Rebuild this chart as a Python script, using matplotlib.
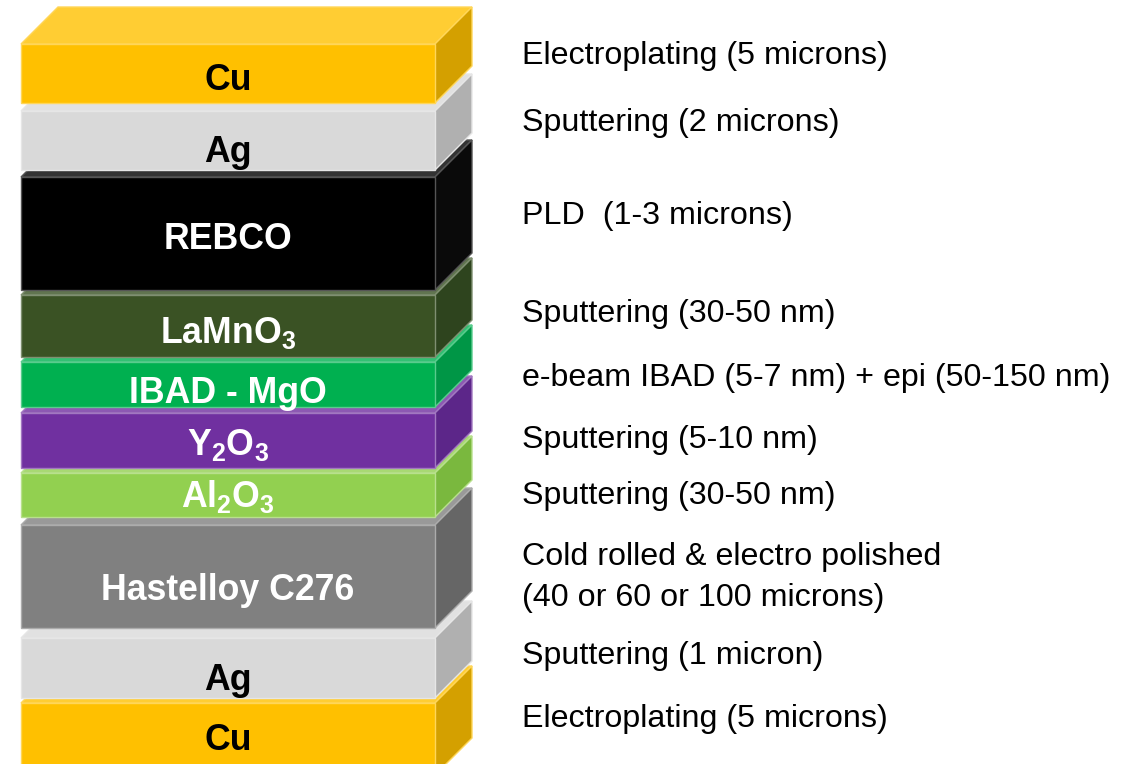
import matplotlib
matplotlib.use("Agg")
import matplotlib.pyplot as plt
from matplotlib.patches import Polygon
from matplotlib.colors import to_rgb

plt.rcParams['font.family'] = ['Liberation Sans', 'DejaVu Sans']
plt.rcParams['mathtext.fontset'] = 'custom'
plt.rcParams['mathtext.rm'] = 'Liberation Sans:bold'
plt.rcParams['mathtext.it'] = 'Liberation Sans:bold'
plt.rcParams['mathtext.bf'] = 'Liberation Sans:bold'

# ---- data (top to bottom) ----
layer_labels = ['Cu', 'Ag', 'REBCO', r'LaMnO$_3$', 'IBAD - MgO', r'Y$_2$O$_3$',
                r'Al$_2$O$_3$', 'Hastelloy C276', 'Ag', 'Cu']
layer_top = [44, 111, 177, 295, 362, 413, 473, 525, 638, 703]
layer_bottom = [103, 170, 290, 357, 407, 468, 517, 628, 698, 775]
label_baseline = [90, 162, 249, 343, 403, 455, 507, 600, 690, 750]
label_color = ['black', 'black', 'white', 'white', 'white', 'white', 'white',
               'white', 'black', 'black']
front_color = ['#FFC000', '#D9D9D9', '#000000', '#3A5224', '#00B050', '#7030A0',
               '#92D050', '#808080', '#D9D9D9', '#FFC000']
side_color = ['#D4A000', '#B0B0B0', '#0A0A0A', '#2E441E', '#009646', '#5C2689',
              '#7AB83E', '#666666', '#B0B0B0', '#D4A000']

process_text = ['Electroplating (5 microns)', 'Sputtering (2 microns)',
                'PLD  (1-3 microns)', 'Sputtering (30-50 nm)',
                'e-beam IBAD (5-7 nm) + epi (50-150 nm)', 'Sputtering (5-10 nm)',
                'Sputtering (30-50 nm)', 'Cold rolled & electro polished',
                '(40 or 60 or 100 microns)', 'Sputtering (1 micron)',
                'Electroplating (5 microns)']
process_baseline = [64, 131, 224, 322, 386, 448, 504, 565, 606, 664, 727]

# geometry
x_left, x_right = 21, 435
depth = 37


def lighten(c, f):
    r, g, b = to_rgb(c)
    return (r + (1 - r) * f, g + (1 - g) * f, b + (1 - b) * f)


fig = plt.figure(figsize=(11.25, 7.64), dpi=100)
ax = fig.add_axes([0, 0, 1, 1])
ax.set_xlim(0, 1125)
ax.set_ylim(764, 0)
ax.axis('off')

# draw bottom layer first so upper layers occlude
for i in reversed(range(len(layer_labels))):
    t, b = layer_top[i], layer_bottom[i]
    fc, sc = front_color[i], side_color[i]
    ec = lighten(fc, 0.35) if fc != '#000000' else '#555555'
    top = Polygon([(x_left, t), (x_left + depth, t - depth),
                   (x_right + depth, t - depth), (x_right, t)],
                  closed=True, facecolor=lighten(fc, 0.2), edgecolor=ec, lw=1.0)
    side = Polygon([(x_right, t), (x_right + depth, t - depth),
                    (x_right + depth, b - depth), (x_right, b)],
                   closed=True, facecolor=sc, edgecolor=ec, lw=1.0)
    front = Polygon([(x_left, t), (x_right, t), (x_right, b), (x_left, b)],
                    closed=True, facecolor=fc, edgecolor=ec, lw=1.0)
    for p in (top, side, front):
        ax.add_patch(p)
    ax.text((x_left + x_right) / 2, label_baseline[i], layer_labels[i],
            ha='center', va='baseline', fontsize=25.7, fontweight='bold',
            color=label_color[i])

for txt, yb in zip(process_text, process_baseline):
    ax.text(522, yb, txt, ha='left', va='baseline', fontsize=23.2, color='black')

fig.savefig('out.png', dpi=100, facecolor='white')
